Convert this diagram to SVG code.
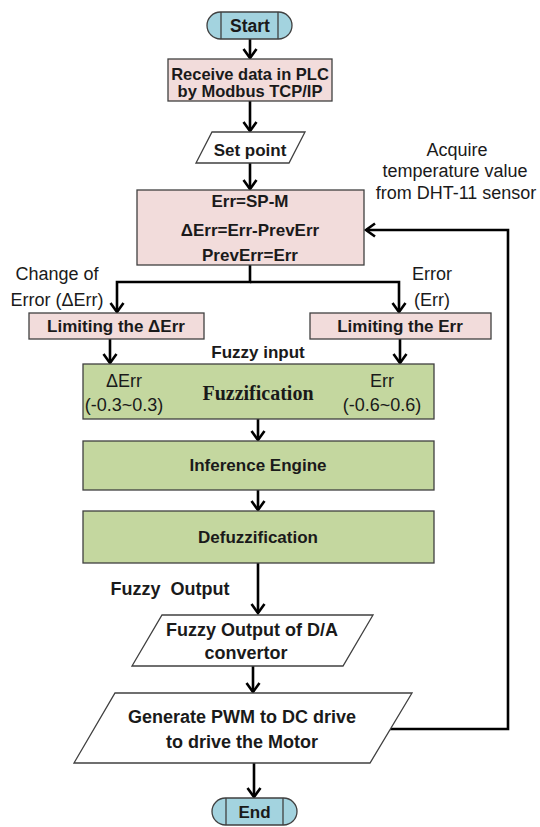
<svg xmlns="http://www.w3.org/2000/svg" width="540" height="827" viewBox="0 0 540 827">
<style>
.box{stroke:#404040;stroke-width:1.3}
.pink{fill:#f2dcdb}
.green{fill:#c4d79f}
.blue{fill:#a3d3df}
.io{fill:#ffffff}
.b{font-family:"Liberation Sans",Arial,sans-serif;font-weight:bold;font-size:17px;fill:#1a1a1a;text-anchor:middle}
.r{font-family:"Liberation Sans",Arial,sans-serif;font-size:18px;fill:#1a1a1a;text-anchor:middle}
.serif{font-family:"Liberation Serif","Times New Roman",serif;font-weight:bold;font-size:20px;fill:#1a1a1a;text-anchor:middle}
.conn path{fill:none;stroke:#000;stroke-width:2.6;marker-end:url(#ah)}
</style>
<defs>
<marker id="ah" markerUnits="userSpaceOnUse" viewBox="-2 -8 14 16" refX="9" refY="0" markerWidth="14" markerHeight="16" orient="auto">
<path d="M0,-6.5 L9,0 L0,6.5" fill="none" stroke="#000" stroke-width="2.6" stroke-linejoin="miter"/>
</marker>
</defs>
<rect width="540" height="827" fill="#ffffff"/>

<g class="conn">
<path d="M250,39 V58"/>
<path d="M250,101 V131"/>
<path d="M250,163 V189"/>
<path d="M250,265 V282 H117 V312"/>
<path d="M250,282 H399 V312"/>
<path d="M110,339 V363"/>
<path d="M400,339 V363"/>
<path d="M258,419 V440"/>
<path d="M258,490 V510"/>
<path d="M258,563 V613"/>
<path d="M253,666 V692"/>
<path d="M254,763 V797"/>
<path d="M390,729 H508 V230 H366"/>
</g>

<g id="start">
<path class="box blue" d="M220.5,12 H278.5 A13.5,13.5 0 0 1 278.5,39 H220.5 A13.5,13.5 0 0 1 220.5,12 Z"/>
<line class="box" x1="221" y1="12" x2="221" y2="39"/>
<line class="box" x1="278" y1="12" x2="278" y2="39"/>
<text class="b" x="250" y="32" style="font-size:17.5px">Start</text>
</g>

<g id="receive">
<rect class="box pink" x="168" y="59" width="164" height="42"/>
<text class="b" x="250" y="80" style="font-size:16.5px">Receive data in PLC</text>
<text class="b" x="250" y="97" style="font-size:16.5px">by Modbus TCP/IP</text>
</g>

<g id="setpoint">
<polygon class="box io" points="212,132 305,132 289,163 196,163"/>
<text class="b" x="250" y="156">Set point</text>
</g>

<g id="err">
<rect class="box pink" x="137" y="190" width="227" height="75"/>
<text class="b" x="250" y="207">Err=SP-M</text>
<text class="b" x="250" y="236">ΔErr=Err-PrevErr</text>
<text class="b" x="250" y="261">PrevErr=Err</text>
</g>

<g id="acquire">
<text class="r" x="457" y="156">Acquire</text>
<text class="r" x="455" y="177">temperature value</text>
<text class="r" x="456" y="199">from DHT-11 sensor</text>
</g>

<g id="lbl-derr">
<text class="r" x="57" y="280">Change of</text>
<text class="r" x="57" y="306">Error (ΔErr)</text>
</g>
<g id="lbl-err">
<text class="r" x="432" y="280">Error</text>
<text class="r" x="432" y="306">(Err)</text>
</g>

<g id="limit-derr">
<rect class="box pink" x="29" y="313" width="175" height="26"/>
<text class="b" x="116" y="332">Limiting the ΔErr</text>
</g>
<g id="limit-err">
<rect class="box pink" x="310" y="313" width="181" height="26"/>
<text class="b" x="400" y="332">Limiting the Err</text>
</g>

<g id="fuzzy-input">
<text class="b" x="258" y="358">Fuzzy input</text>
</g>

<g id="fuzzification">
<rect class="box green" x="83" y="364" width="351" height="55"/>
<text class="r" x="124" y="387">ΔErr</text>
<text class="r" x="124" y="411">(-0.3~0.3)</text>
<text class="serif" x="258" y="400">Fuzzification</text>
<text class="r" x="382" y="387">Err</text>
<text class="r" x="382" y="411">(-0.6~0.6)</text>
</g>

<g id="inference">
<rect class="box green" x="83" y="441" width="351" height="49"/>
<text class="b" x="258" y="471">Inference Engine</text>
</g>

<g id="defuzz">
<rect class="box green" x="83" y="511" width="351" height="52"/>
<text class="b" x="258" y="543">Defuzzification</text>
</g>

<g id="fuzzy-output-lbl">
<text class="b" x="170" y="595" style="font-size:18px;white-space:pre" xml:space="preserve">Fuzzy  Output</text>
</g>

<g id="da">
<polygon class="box io" points="162,615 373,615 343,666 132,666"/>
<text class="b" x="252" y="636" style="font-size:18px">Fuzzy Output of D/A</text>
<text class="b" x="246" y="659" style="font-size:18px">convertor</text>
</g>

<g id="pwm">
<polygon class="box io" points="115,693 412,693 370,763 74,763"/>
<text class="b" x="242" y="723" style="font-size:18px">Generate PWM to DC drive</text>
<text class="b" x="242" y="748" style="font-size:18px">to drive the Motor</text>
</g>

<g id="end">
<path class="box blue" d="M225.5,798 H283.5 A13.5,13.5 0 0 1 283.5,825 H225.5 A13.5,13.5 0 0 1 225.5,798 Z"/>
<line class="box" x1="226" y1="798" x2="226" y2="825"/>
<line class="box" x1="283" y1="798" x2="283" y2="825"/>
<text class="b" x="254.5" y="818">End</text>
</g>
</svg>
